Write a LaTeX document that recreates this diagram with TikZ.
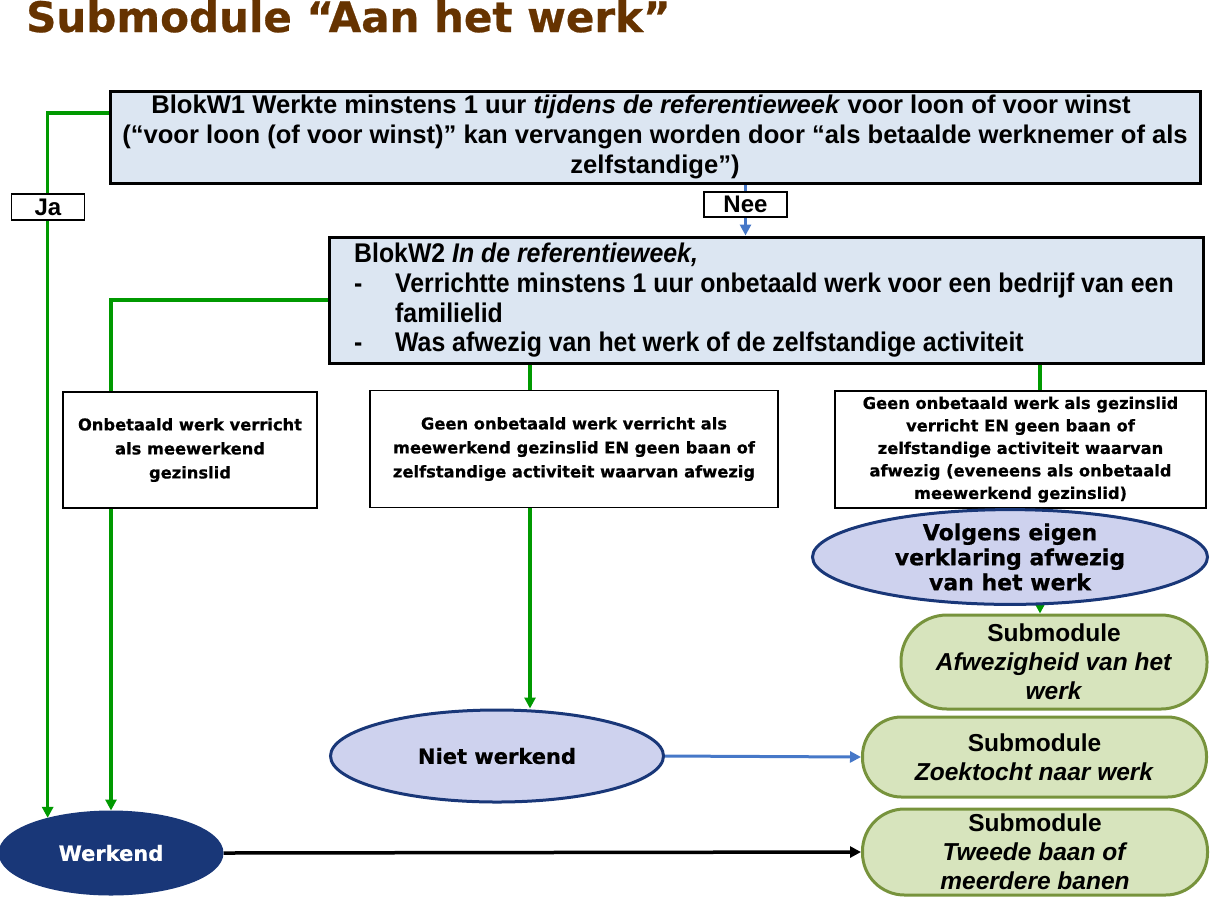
\documentclass[tikz,border=0pt]{standalone}
\usepackage{fontspec}
\usetikzlibrary{arrows.meta,shapes.geometric,backgrounds}
\newfontfamily\arialf{Liberation Sans}
\newfontfamily\narrowf[FakeStretch=0.92]{Liberation Sans}
\newfontfamily\verdf[FakeBold=0.6]{DejaVu Sans}
\definecolor{titlebrown}{RGB}{102,51,0}
\definecolor{boxblue}{RGB}{220,230,242}
\definecolor{gline}{RGB}{0,153,0}
\definecolor{bline}{RGB}{70,120,200}
\definecolor{ellfill}{RGB}{206,210,238}
\definecolor{navy}{RGB}{25,55,120}
\definecolor{subfill}{RGB}{215,228,189}
\definecolor{subdraw}{RGB}{119,147,60}
\tikzset{
  blok/.style={draw=black,line width=3pt,fill=boxblue,inner sep=0pt},
  optbox/.style={draw=black,line width=1.2pt,fill=white,inner sep=0pt,align=center,
    font=\verdf\bfseries\fontsize{16.3}{24}\selectfont},
  tag/.style={draw=black,line width=1.2pt,fill=white,inner sep=0pt,
    font=\arialf\bfseries\fontsize{24}{28}\selectfont},
  ell/.style={ellipse,draw=navy,line width=3pt,fill=ellfill,inner sep=0pt,align=center,
    font=\verdf\bfseries\fontsize{21}{25}\selectfont},
  sub/.style={draw=subdraw,line width=3pt,fill=subfill,inner sep=0pt,align=center,
    font=\arialf\bfseries\fontsize{24.5}{29}\selectfont},
  gconn/.style={draw=gline,line width=3.5pt},
  garrow/.style={gconn,-{Triangle[length=11pt,width=11pt]}},
  barrow/.style={draw=bline,line width=3pt,-{Triangle[length=11pt,width=11pt]}},
  karrow/.style={draw=black,line width=3.5pt,-{Triangle[length=11pt,width=11pt]}},
}
\begin{document}
\begin{tikzpicture}[x=1pt,y=-1pt]
\useasboundingbox (0,0) rectangle (1217,898);
% title
\node[anchor=base west,inner sep=0pt,text=titlebrown,font=\verdf\bfseries\fontsize{42}{46}\selectfont] (title) at (26,32) {Submodule “Aan het werk”};
% main question boxes
\node[blok,minimum width=1090pt,minimum height=92pt,align=center,
  font=\arialf\bfseries\fontsize{25.6}{30}\selectfont] (W1) at (655,137)
  {BlokW1 Werkte minstens 1 uur \textit{tijdens de referentieweek} voor loon of voor winst\hspace*{28pt}\\
   (“voor loon (of voor winst)” kan vervangen worden door “als betaalde werknemer of als\\
   zelfstandige”)};
\node[blok,minimum width=874pt,minimum height=126pt] (W2) at (766,300) {};
\node[anchor=north west,inner sep=0pt,align=left,
  font=\narrowf\bfseries\fontsize{27}{29.7}\selectfont] (W2text) at (354,243)
  {BlokW2 \textit{In de referentieweek,}\\
   \makebox[41pt][l]{-}Verrichtte minstens 1 uur onbetaald werk voor een bedrijf van een\\
   \hspace*{41pt}familielid\\
   \makebox[41pt][l]{-}Was afwezig van het werk of de zelfstandige activiteit};
% labels
\node[tag,minimum width=73pt,minimum height=26pt] (ja) at (48,207) {Ja};
\node[tag,minimum width=83pt,minimum height=25pt] (nee) at (745.5,204.5) {Nee};
% option boxes
\node[optbox,minimum width=254pt,minimum height=116pt] (B1) at (190,450)
  {Onbetaald werk verricht\\als meewerkend\\gezinslid};
\node[optbox,minimum width=408pt,minimum height=117pt] (B2) at (574,449)
  {Geen onbetaald werk verricht als\\meewerkend gezinslid EN geen baan of\\zelfstandige activiteit waarvan afwezig};
\node[optbox,minimum width=371pt,minimum height=117pt,
  font=\verdf\bfseries\fontsize{16.3}{22.5}\selectfont] (B3) at (1020.5,449.5)
  {Geen onbetaald werk als gezinslid\\verricht EN geen baan of\\zelfstandige activiteit waarvan\\afwezig (eveneens als onbetaald\\meewerkend gezinslid)};
% ellipses
\node[ell,minimum width=395pt,minimum height=88pt,font=\verdf\bfseries\fontsize{22}{25}\selectfont] (volg) at (1010,557)
  {Volgens eigen\\verklaring afwezig\\van het werk};
\node[ell,minimum width=333pt,minimum height=92pt] (niet) at (497,756) {Niet werkend};
\node[ell,draw=navy,fill=navy,text=white,minimum width=222pt,minimum height=82pt] (werk) at (111,853) {Werkend};
% submodules
\node[sub,minimum width=306pt,minimum height=94pt,rounded corners=46pt] (S1) at (1054,662)
  {Submodule\\\textit{Afwezigheid van het}\\\textit{werk}};
\node[sub,minimum width=344pt,minimum height=80pt,rounded corners=39pt] (S2) at (1034.5,757)
  {Submodule\\\textit{Zoektocht naar werk}};
\node[sub,minimum width=345pt,minimum height=86pt,rounded corners=42pt] (S3) at (1035,852)
  {Submodule\\\textit{Tweede baan of}\\\textit{meerdere banen}};
% helper coordinates
\coordinate (xB2) at ([xshift=-44pt]B2.north);
\coordinate (xB3) at ([xshift=19.5pt]B3.north);
% connectors
\begin{scope}[on background layer]
\draw[garrow] ([yshift=24pt]W1.west) -| (werk.151.6);
\draw[garrow] (W2.west) -| (werk.north);
\draw[barrow] (W1.south -| nee.center) -- (W2.north -| nee.center);
\draw[gconn] (W2.south -| xB2) -- (xB2);
\draw[garrow] (B2.south -| xB2) -- (niet.north -| xB2);
\draw[gconn] (W2.south -| xB3) -- (xB3);
\draw[garrow] (B3.south -| xB3) -- (S1.north -| xB3);
\draw[barrow] (niet.east) -- (S2.west);
\draw[karrow] (werk.east) -- (S3.west);
\end{scope}
\end{tikzpicture}
\end{document}
